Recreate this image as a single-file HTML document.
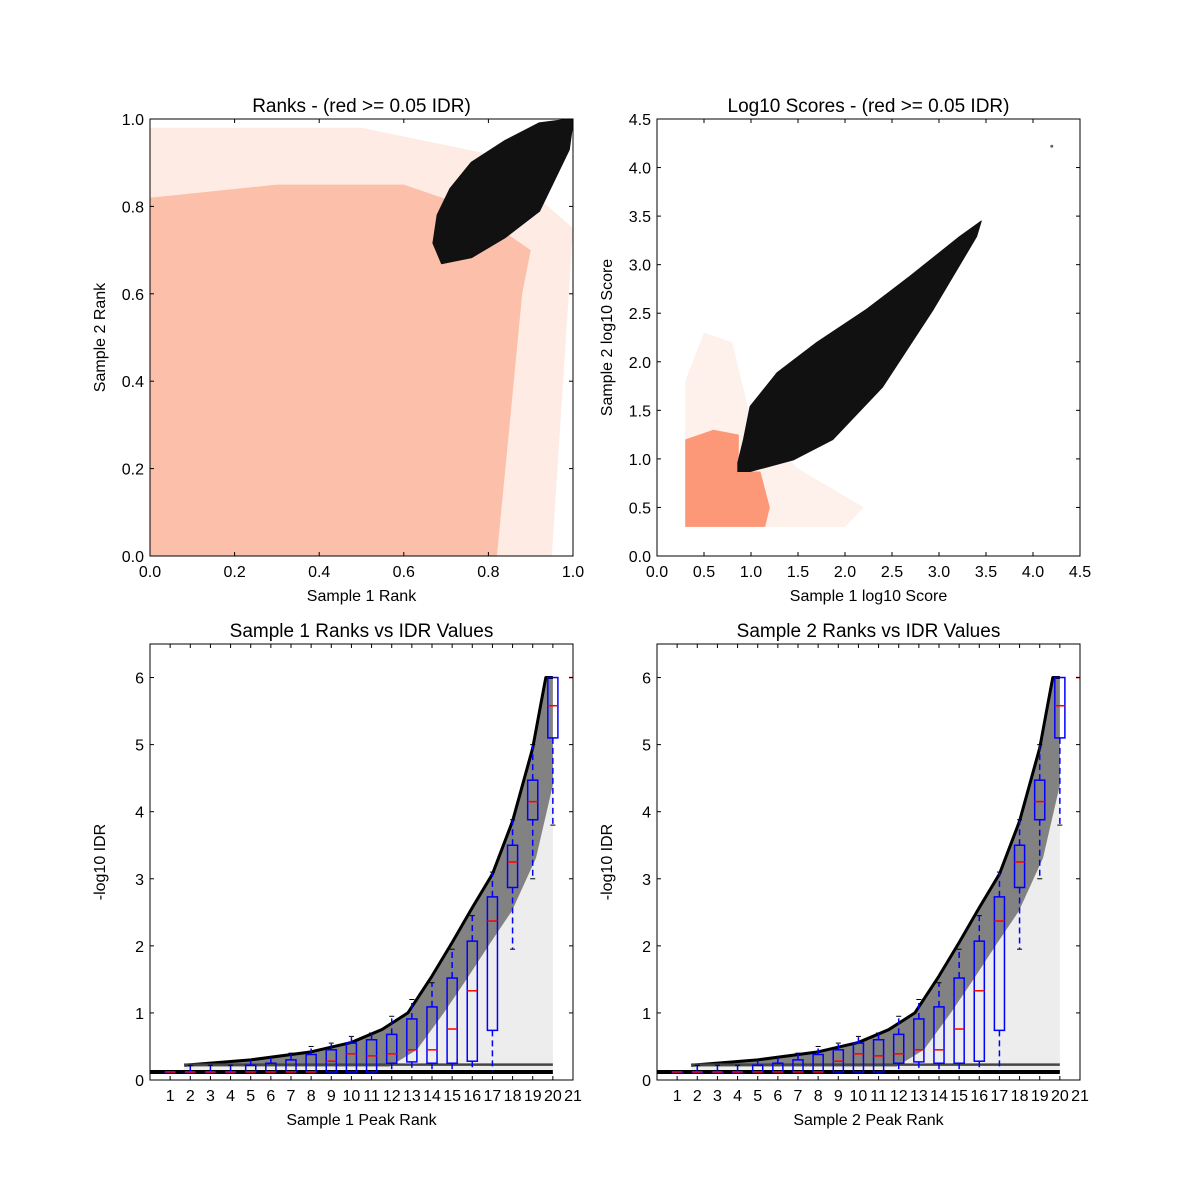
<!DOCTYPE html>
<html><head><meta charset="utf-8"><style>
html,body{margin:0;padding:0;background:#fff;}
svg{display:block;font-family:"Liberation Sans","DejaVu Sans",sans-serif;}
</style></head><body>
<svg id="fig" width="1200" height="1200" viewBox="0 0 1200 1200"></svg>
<script>
// ---------- data ----------
const rankTicks = [0.0,0.2,0.4,0.6,0.8,1.0];
const scoreTicks = [0.0,0.5,1.0,1.5,2.0,2.5,3.0,3.5,4.0,4.5];
const idrTicks = [0,1,2,3,4,5,6];
const peakRanks = [1,2,3,4,5,6,7,8,9,10,11,12,13,14,15,16,17,18,19,20,21];
// Ranks plot regions (data coords)
const rankSalmonX = [0,0.82,0.85,0.88,0.9,0.75,0.6,0.3,0];
const rankSalmonY = [0,0,0.3,0.6,0.7,0.8,0.85,0.85,0.82];
const rankHaloX = [0,0.95,0.97,1.0,0.8,0.5,0];
const rankHaloY = [0,0,0.3,0.75,0.92,0.98,0.98];
const rankBlackX = [0.67,0.69,0.76,0.84,0.92,0.99,1.0,0.92,0.84,0.76,0.71,0.68];
const rankBlackY = [0.716,0.67,0.684,0.73,0.79,0.93,1.0,0.99,0.95,0.90,0.84,0.78];
// Log10 score regions
const scoreSalmonX = [0.3,1.15,1.2,1.1,0.87,0.87,0.6,0.3];
const scoreSalmonY = [0.3,0.3,0.5,0.87,0.87,1.25,1.3,1.2];
const scoreHaloX = [0.3,2.0,2.2,1.5,1.0,0.8,0.5,0.3];
const scoreHaloY = [0.3,0.3,0.5,0.9,1.4,2.2,2.3,1.8];
const scoreBlackX = [0.86,0.99,1.45,1.87,2.4,2.94,3.4,3.45,3.22,2.69,2.23,1.70,1.28,0.99,0.92,0.86];
const scoreBlackY = [0.87,0.87,0.99,1.2,1.74,2.54,3.29,3.45,3.29,2.88,2.54,2.2,1.89,1.54,1.2,0.96];
const outlierX = [4.2];
const outlierY = [4.22];
// IDR cloud upper envelope
const envX = [1.7,5,8,10,11.5,12.8,14,15,16,17,18,19,19.4,19.65,20];
const envY = [0.22,0.3,0.42,0.56,0.75,1.0,1.55,2.05,2.57,3.07,3.86,4.95,5.6,6.0,6.0];
// Boxplot stats per rank 1..20
const boxQ1  = [0.12,0.12,0.12,0.12,0.12,0.12,0.12,0.12,0.12,0.12,0.12,0.25,0.27,0.25,0.25,0.28,0.74,2.87,3.88,5.1];
const boxMed = [0.12,0.12,0.12,0.12,0.12,0.12,0.12,0.12,0.28,0.39,0.36,0.39,0.45,0.45,0.76,1.33,2.37,3.25,4.15,5.58];
const boxQ3  = [0.12,0.12,0.12,0.12,0.22,0.25,0.3,0.38,0.45,0.55,0.6,0.68,0.91,1.09,1.52,2.07,2.73,3.5,4.47,6.0];
const whLo   = [0.12,0.12,0.12,0.12,0.12,0.12,0.12,0.12,0.12,0.12,0.12,0.12,0.12,0.12,0.12,0.12,0.12,1.95,3.0,3.8];
const whHi   = [0.12,0.22,0.22,0.22,0.3,0.35,0.4,0.5,0.55,0.65,0.7,0.95,1.2,1.45,1.95,2.45,3.1,3.88,5.0,6.0];

// ---------- helpers ----------
const NS='http://www.w3.org/2000/svg';
const svg=document.getElementById('fig');
function mk(tag,attrs,parent){const e=document.createElementNS(NS,tag);for(const k in attrs)e.setAttribute(k,attrs[k]);(parent||svg).appendChild(e);return e;}
function txt(s,attrs,parent){const e=mk('text',attrs,parent);e.textContent=s;return e;}

function axes(name,L,T,W,H,x0,x1,y0,y1){
  const g=mk('g',{});
  
  
  const sx=v=>L+(v-x0)/(x1-x0)*W, sy=v=>T+H-(v-y0)/(y1-y0)*H;
  const clipId=name+'-clip';
  const cp=mk('clipPath',{id:clipId},g);mk('rect',{x:L,y:T,width:W,height:H},cp);
  const plot=mk('g',{'clip-path':'url(#'+clipId+')'},g);
  return {g,plot,sx,sy,L,T,W,H};
}
function frame(a,xt,yt,xfmt,yfmt,xtitle,ytitle,title){
  const {g,sx,sy,L,T,W,H}=a;
  const fr=mk('rect',{x:L,y:T,width:W,height:H,fill:'none',stroke:'#000','stroke-width':1},g);
  
  xt.forEach(v=>{const x=sx(v);
    mk('line',{x1:x,y1:T+H,x2:x,y2:T+H-4,stroke:'#000'},g);
    mk('line',{x1:x,y1:T,x2:x,y2:T+4,stroke:'#000'},g);
    const t=txt(xfmt(v),{x:x,y:T+H+21,'font-size':16,'text-anchor':'middle'},g);
    });
  yt.forEach(v=>{const y=sy(v);
    mk('line',{x1:L,y1:y,x2:L+4,y2:y,stroke:'#000'},g);
    mk('line',{x1:L+W,y1:y,x2:L+W-4,y2:y,stroke:'#000'},g);
    const t=txt(yfmt(v),{x:L-6,y:y+6,'font-size':16,'text-anchor':'end'},g);
    });
  const xt1=txt(xtitle,{x:L+W/2,y:T+H+45,'font-size':16,'text-anchor':'middle'},g);
  
  const yx=L-45, yy=T+H/2;
  const yt1=txt(ytitle,{x:yx,y:yy,'font-size':16,'text-anchor':'middle',transform:'rotate(-90 '+yx+' '+yy+')'},g);
  
  const tt=txt(title,{x:L+W/2,y:T-7,'font-size':19,'text-anchor':'middle'},g);
  
}
function poly(a,xs,ys,attrs,name){
  const pts=xs.map((x,i)=>a.sx(x).toFixed(1)+','+a.sy(ys[i]).toFixed(1)).join(' ');
  const p=mk('polygon',Object.assign({points:pts},attrs),a.plot);
  return p;
}

// ---------- Top-left: Ranks ----------
const a1=axes('ranks-plot',150,119,423,437,0,1,0,1);
poly(a1,rankHaloX,rankHaloY,{fill:'#feebe4'},'ranks-sparse-points');
poly(a1,rankSalmonX,rankSalmonY,{fill:'#fcc0aa'},'ranks-low-idr-points');
poly(a1,rankBlackX,rankBlackY,{fill:'#111','stroke':'#111','stroke-width':2,'stroke-linejoin':'round'},'ranks-high-idr-points');
frame(a1,rankTicks,rankTicks,v=>v.toFixed(1),v=>v.toFixed(1),'Sample 1 Rank','Sample 2 Rank','Ranks - (red >= 0.05 IDR)');

// ---------- Top-right: Scores ----------
const a2=axes('scores-plot',657,119,423,437,0,4.5,0,4.5);
poly(a2,scoreHaloX,scoreHaloY,{fill:'#fef0ea'},'scores-sparse-points');
poly(a2,scoreSalmonX,scoreSalmonY,{fill:'#fc9877'},'scores-low-idr-points');
poly(a2,scoreBlackX,scoreBlackY,{fill:'#111','stroke':'#111','stroke-width':1,'stroke-linejoin':'round'},'scores-high-idr-points');
outlierX.forEach((x,i)=>{const c=mk('circle',{cx:a2.sx(x),cy:a2.sy(outlierY[i]),r:1.5,fill:'#666'},a2.plot);
  });
frame(a2,scoreTicks,scoreTicks,v=>v.toFixed(1),v=>v.toFixed(1),'Sample 1 log10 Score','Sample 2 log10 Score','Log10 Scores - (red >= 0.05 IDR)');

// ---------- Bottom: IDR plots ----------
function idrPanel(name,L,label){
  const a=axes(name,L,644,423,436,0,21,0,6.5);
  // sparse cloud
  poly(a,envX.concat([20,20,envX[0]]),envY.concat([6.0,0.15,0.15]),{fill:'rgba(0,0,0,0.07)'},'idr-sparse-cloud');
  // dense band along envelope
  const bx=envX.map((x,i)=>Math.min(20,x+0.2+0.25*envY[i]));
  const by=envY.map(y=>Math.max(0.2,y-0.55));
  poly(a,envX.concat(bx.slice().reverse()),envY.concat(by.slice().reverse()),{fill:'rgba(0,0,0,0.45)'},'idr-dense-cloud');
  const ep=envX.map((x,i)=>a.sx(x)+','+a.sy(envY[i])).join(' ');
  const pl=mk('polyline',{points:ep,fill:'none',stroke:'#000','stroke-width':3,'stroke-linejoin':'round'},a.plot);
  
  const l1=mk('line',{x1:a.sx(0),y1:a.sy(0.12),x2:a.sx(20),y2:a.sy(0.12),stroke:'#000','stroke-width':4},a.plot);
  
  const l2=mk('line',{x1:a.sx(1.7),y1:a.sy(0.23),x2:a.sx(20),y2:a.sy(0.23),stroke:'#444','stroke-width':2.5},a.plot);
  
  // boxplots
  boxQ1.forEach((q1,i)=>{
    const r=peakRanks[i], x=a.sx(r), hw=a.sx(r+0.25)-x;
    const bg=mk('g',{},a.plot);
    
    mk('line',{x1:x,y1:a.sy(boxQ3[i]),x2:x,y2:a.sy(whHi[i]),stroke:'#00f','stroke-dasharray':'6,4','stroke-width':1.5},bg);
    mk('line',{x1:x,y1:a.sy(q1),x2:x,y2:a.sy(whLo[i]),stroke:'#00f','stroke-dasharray':'6,4','stroke-width':1.5},bg);
    mk('line',{x1:x-hw/2,y1:a.sy(whHi[i]),x2:x+hw/2,y2:a.sy(whHi[i]),stroke:'#000'},bg);
    mk('line',{x1:x-hw/2,y1:a.sy(whLo[i]),x2:x+hw/2,y2:a.sy(whLo[i]),stroke:'#000'},bg);
    mk('rect',{x:x-hw,y:a.sy(boxQ3[i]),width:2*hw,height:Math.max(0.5,a.sy(q1)-a.sy(boxQ3[i])),fill:'none',stroke:'#00f','stroke-width':1.5},bg);
    mk('line',{x1:x-hw,y1:a.sy(boxMed[i]),x2:x+hw,y2:a.sy(boxMed[i]),stroke:'#f00','stroke-width':1.5},bg);
  });
  mk('line',{x1:a.sx(20.8),y1:a.sy(6),x2:a.sx(21),y2:a.sy(6),stroke:'#f00','stroke-width':1.5},a.plot);
  frame(a,peakRanks,idrTicks,v=>String(v),v=>String(v),label+' Peak Rank','-log10 IDR',label+' Ranks vs IDR Values');
}
idrPanel('sample1-idr-plot',150,'Sample 1');
idrPanel('sample2-idr-plot',657,'Sample 2');
</script>
</body></html>
